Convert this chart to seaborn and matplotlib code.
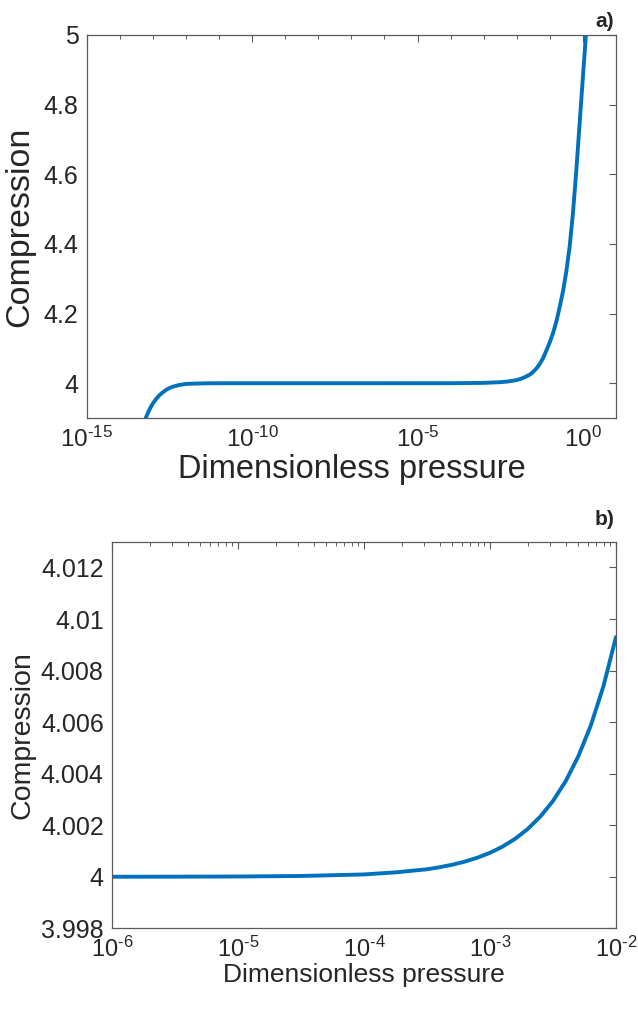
import numpy as np
import pandas as pd
import matplotlib
matplotlib.use("Agg")
import matplotlib.pyplot as plt
import matplotlib.ticker as mticker
import seaborn as sns

# ---- data (log10 of dimensionless pressure, compression) ----
top_logp = [-13.22, -13.15, -13.1, -13.05, -13.0, -12.9, -12.8, -12.7, -12.6, -12.5,
            -12.4, -12.2, -12.0, -11.7, -11.4, -11.0, -10.0, -8.0, -6.0, -4.0, -3.0,
            -2.5, -2.3, -2.1, -2.0, -1.9, -1.8, -1.7, -1.6, -1.5, -1.4, -1.3, -1.2,
            -1.1, -1.0, -0.9, -0.8, -0.7, -0.6, -0.5, -0.4, -0.3, -0.2, -0.1, 0.0,
            0.05, 0.1, 0.12]
top_comp = [3.900, 3.915, 3.925, 3.934, 3.942, 3.955, 3.966, 3.974, 3.981, 3.986,
            3.990, 3.995, 3.998, 3.999, 3.9997, 4.000, 4.000, 4.000, 4.000, 4.0001, 4.001,
            4.003, 4.0047, 4.0074, 4.0093, 4.012, 4.0155, 4.020, 4.025, 4.033, 4.043, 4.056, 4.073,
            4.095, 4.118, 4.145, 4.178, 4.220, 4.265, 4.322, 4.393, 4.490, 4.610, 4.745, 4.880,
            4.945, 5.015, 5.040]

bot_logp = [-6.0, -5.5, -5.0, -4.5, -4.0, -3.75, -3.5, -3.4, -3.3, -3.2, -3.1, -3.0,
            -2.9, -2.8, -2.7, -2.6, -2.5, -2.4, -2.3, -2.2, -2.1, -2.0]
bot_comp = [4.00000, 4.000003, 4.00001, 4.00003, 4.00009, 4.00017, 4.00029, 4.00037,
            4.000466, 4.000587, 4.000739, 4.00093, 4.00117, 4.001474, 4.001856,
            4.002336, 4.002941, 4.003702, 4.004661, 4.005868, 4.007387, 4.0093]

top_yticks = [4, 4.2, 4.4, 4.6, 4.8, 5]
bot_yticks = [3.998, 4, 4.002, 4.004, 4.006, 4.008, 4.01, 4.012]
top_xmajor = [-15, -10, -5, 0]
bot_xmajor = [-6, -5, -4, -3, -2]

sns.set_theme(style="white")
plt.rcParams['font.family'] = ['Liberation Sans', 'DejaVu Sans']
plt.rcParams['mathtext.fontset'] = 'custom'
plt.rcParams['mathtext.rm'] = 'Liberation Sans'
plt.rcParams['mathtext.it'] = 'Liberation Sans'
plt.rcParams['axes.unicode_minus'] = False

TXT = '#262626'
SP = '#5a5a5a'
LC = '#0072BD'

fig = plt.figure(figsize=(6.38, 10.11), dpi=100)
ax1 = fig.add_axes([0.136, 0.5865, 0.8295, 0.3789])
ax2 = fig.add_axes([0.1755, 0.0818, 0.79, 0.3824])

df1 = pd.DataFrame({'p': 10.0 ** np.array(top_logp), 'c': top_comp})
df2 = pd.DataFrame({'p': 10.0 ** np.array(bot_logp), 'c': bot_comp})

sns.lineplot(data=df1, x='p', y='c', ax=ax1, color=LC, linewidth=2.8, sort=False)
sns.lineplot(data=df2, x='p', y='c', ax=ax2, color=LC, linewidth=2.8, sort=False)

def log_label(v, pos):
    e = int(round(np.log10(v)))
    s = str(e).replace('-', '\u2010')
    return r'$\mathregular{10^{%s}}$' % s

for ax in (ax1, ax2):
    ax.set_xscale('log')
    for s in ax.spines.values():
        s.set_color(SP)
        s.set_linewidth(0.9)
    ax.tick_params(which='both', direction='in', top=True, right=True,
                   color=SP, labelcolor=TXT)
    ax.tick_params(which='major', length=5, width=0.8, pad=6)
    ax.tick_params(which='minor', length=3, width=0.7)
    ax.tick_params(axis='y', which='major', labelsize=18)

ax1.tick_params(axis='x', which='major', labelsize=17.5)
ax2.tick_params(axis='x', which='major', labelsize=17)

ax1.set_xlim(1e-15, 1e1)
ax1.set_ylim(3.9, 5)
ax1.xaxis.set_major_locator(mticker.FixedLocator([10.0 ** e for e in top_xmajor]))
ax1.xaxis.set_minor_locator(mticker.FixedLocator([10.0 ** e for e in range(-15, 2) if e not in top_xmajor]))
ax1.xaxis.set_major_formatter(mticker.FuncFormatter(log_label))
ax1.xaxis.set_minor_formatter(mticker.NullFormatter())
ax1.yaxis.set_major_locator(mticker.FixedLocator(top_yticks))
ax1.yaxis.set_major_formatter(mticker.FuncFormatter(lambda v, p: ('%g' % v)))
ax1.set_xlabel('Dimensionless pressure', fontsize=23.5, color=TXT, labelpad=2)
ax1.set_ylabel('Compression', fontsize=24.5, color=TXT, labelpad=6)

ax2.set_xlim(1e-6, 1e-2)
ax2.set_ylim(3.998, 4.013)
ax2.xaxis.set_major_locator(mticker.FixedLocator([10.0 ** e for e in bot_xmajor]))
ax2.xaxis.set_minor_locator(mticker.LogLocator(base=10, subs=np.arange(2, 10), numticks=20))
ax2.xaxis.set_major_formatter(mticker.FuncFormatter(log_label))
ax2.xaxis.set_minor_formatter(mticker.NullFormatter())
ax2.yaxis.set_major_locator(mticker.FixedLocator(bot_yticks))
ax2.yaxis.set_major_formatter(mticker.FuncFormatter(lambda v, p: ('%g' % round(v, 3))))
ax2.set_xlabel('Dimensionless pressure', fontsize=19, color=TXT, labelpad=1)
ax2.set_ylabel('Compression', fontsize=20.5, color=TXT, labelpad=4)

fig.text(0.963, 0.979, 'a)', ha='right', va='center', fontsize=15, fontweight='bold', color=TXT)
fig.text(0.963, 0.486, 'b)', ha='right', va='center', fontsize=15, fontweight='bold', color=TXT)

fig.savefig('out.png', dpi=100, facecolor='white')
